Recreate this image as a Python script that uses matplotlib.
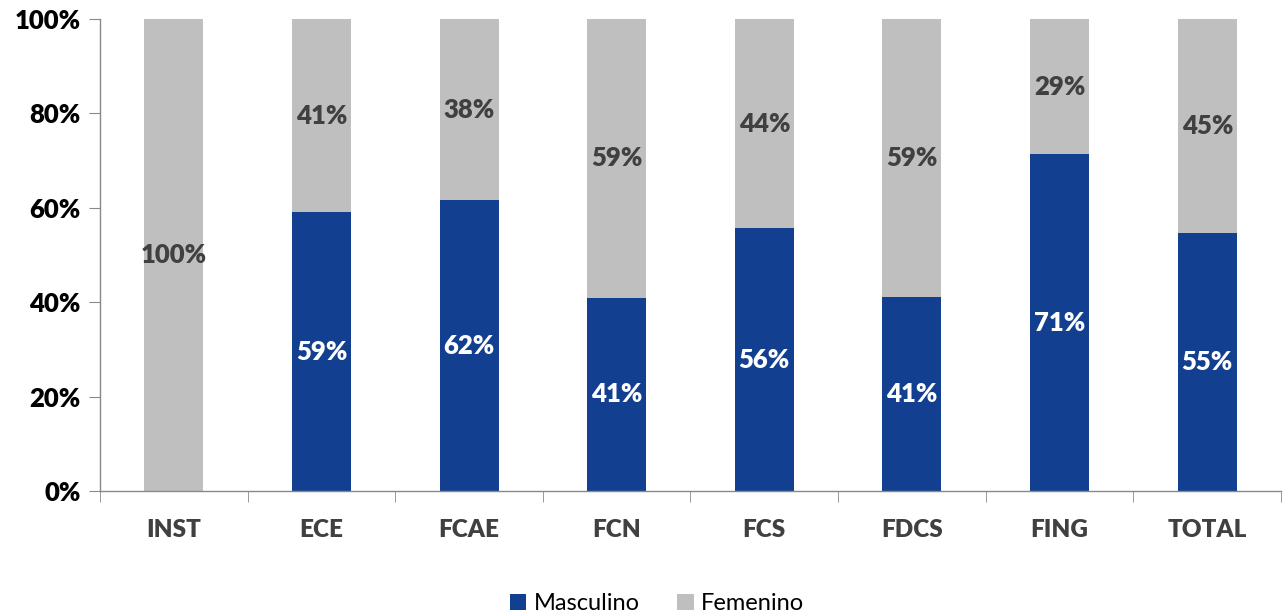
import matplotlib
matplotlib.use("Agg")
import matplotlib.pyplot as plt
from matplotlib.ticker import PercentFormatter

categories = ["INST", "ECE", "FCAE", "FCN", "FCS", "FDCS", "FING", "TOTAL"]
masculino = [0.0, 59.1, 61.6, 40.9, 55.7, 41.1, 71.4, 54.6]
femenino = [100.0 - m for m in masculino]
series_names = ["Masculino", "Femenino"]

BLUE = "#123f8f"
GREY = "#bfbfbf"
DARK = "#404040"

plt.rcParams["font.family"] = ["Lato", "DejaVu Sans"]

fig = plt.figure(figsize=(12.88, 6.15), dpi=100)
ax = fig.add_axes([0.0776, 0.2016, 0.9170, 0.7675])

x = list(range(len(categories)))
w = 0.4
b1 = ax.bar(x, masculino, width=w, color=BLUE, label=series_names[0])
b2 = ax.bar(x, femenino, width=w, bottom=masculino, color=GREY, label=series_names[1])

for xi, m, f in zip(x, masculino, femenino):
    if m > 0:
        ax.text(xi, m / 2, f"{int(m + 0.5)}%", ha="center", va="center",
                color="white", fontsize=18.5, fontweight="heavy")
    if f > 0:
        ax.text(xi, m + f / 2, f"{int(f + 0.5)}%", ha="center", va="center",
                color=DARK, fontsize=18.5, fontweight="heavy")

ax.set_xlim(-0.5, len(categories) - 0.5)
ax.set_ylim(0, 100)
ax.set_yticks(range(0, 101, 20))
ax.yaxis.set_major_formatter(PercentFormatter(decimals=0))
ax.set_xticks(x)
ax.set_xticklabels(categories)
ax.set_xticks([i - 0.5 for i in range(len(categories) + 1)], minor=True)
ax.tick_params(axis="x", which="major", length=0, pad=20, labelsize=17.5,
               labelcolor=DARK)
ax.tick_params(axis="x", which="minor", length=8, color="#898989")
ax.tick_params(axis="y", length=8, color="#898989", labelsize=18.5, pad=6,
               labelcolor="black")
for lab in ax.get_xticklabels() + ax.get_yticklabels():
    lab.set_fontweight("heavy")

for s in ["top", "right"]:
    ax.spines[s].set_visible(False)
for s in ["left", "bottom"]:
    ax.spines[s].set_color("#898989")
    ax.spines[s].set_linewidth(1.0)

fig.legend(handles=[b1, b2], loc="center", bbox_to_anchor=(0.51, 0.018),
           ncol=2, frameon=False, fontsize=17, handlelength=0.7,
           handleheight=0.7, handletextpad=0.3, columnspacing=1.6)

fig.savefig("out.png", dpi=100, facecolor="white")
